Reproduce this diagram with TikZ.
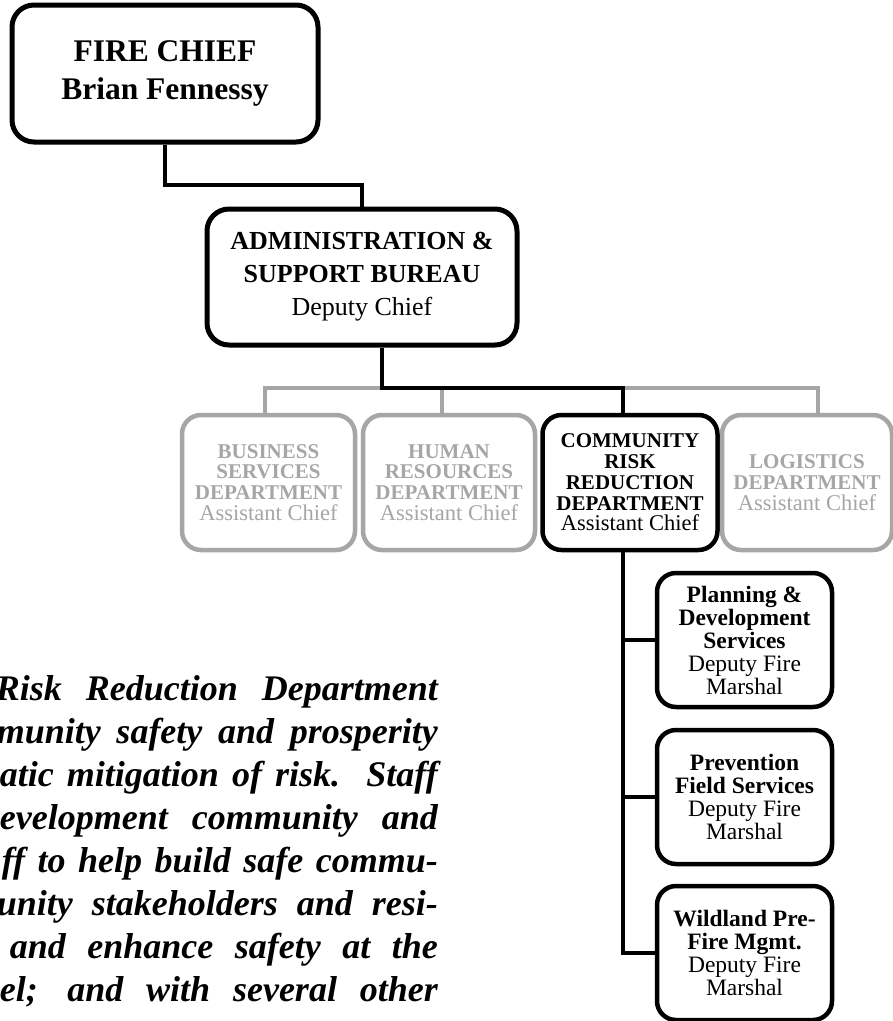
\documentclass[tikz,border=0pt]{standalone}
\usepackage{fontspec}
\setmainfont{Liberation Serif}
\definecolor{inactive}{HTML}{A6A6A6}

\tikzset{
  box/.style={draw=black, line width=4.5pt, rounded corners=19pt, align=center,
    inner sep=0pt, text=black, fill=white},
  chiefbox/.style={box, line width=5pt, rounded corners=22pt,
    minimum width=306pt, minimum height=137pt,
    font=\fontsize{31.5}{38}\selectfont\bfseries},
  bureaubox/.style={box, line width=5pt, rounded corners=22pt,
    minimum width=310pt, minimum height=136pt,
    font=\fontsize{26}{33}\selectfont},
  deptbox/.style={box, minimum height=135pt, font=\fontsize{21}{20.8}\selectfont},
  offbox/.style={deptbox, draw=inactive, text=inactive},
  unitbox/.style={box, minimum width=175pt, minimum height=134pt,
    font=\fontsize{23.5}{23}\selectfont},
  conn/.style={draw=black, line width=4pt},
  offconn/.style={draw=inactive, line width=4pt},
  para/.style={anchor=base east, inner sep=0pt,
    font=\fontsize{36}{43}\selectfont\bfseries\itshape}
}

\begin{document}
\begin{tikzpicture}[x=1pt, y=-1pt]
  \useasboundingbox (0,0) rectangle (893,1021);
  \fill[white] (0,0) rectangle (893,1021);
  \clip (0,0) rectangle (893,1021);

  % chief and bureau
  \node[chiefbox] (chief) at (165,73.5) {FIRE CHIEF\\Brian Fennessy};
  \node[bureaubox] (admin) at (362,277)
    {\textbf{ADMINISTRATION \&}\\\textbf{SUPPORT BUREAU}\\Deputy Chief};

  % departments
  \node[offbox, minimum width=173pt] (bsd) at (268.5,482.5)
    {\textbf{BUSINESS}\\\textbf{SERVICES}\\\textbf{DEPARTMENT}\\{\fontsize{22.5}{22}\selectfont Assistant Chief}};
  \node[offbox, minimum width=172pt] (hrd) at (449,482.5)
    {\textbf{HUMAN}\\\textbf{RESOURCES}\\\textbf{DEPARTMENT}\\{\fontsize{22.5}{22}\selectfont Assistant Chief}};
  \node[deptbox, minimum width=175pt] (crr) at (630,482.5)
    {\textbf{COMMUNITY}\\\textbf{RISK}\\\textbf{REDUCTION}\\\textbf{DEPARTMENT}\\{\fontsize{22.5}{22}\selectfont Assistant Chief}};
  \node[offbox, minimum width=170pt] (logd) at (807,482.5)
    {\textbf{LOGISTICS}\\\textbf{DEPARTMENT}\\{\fontsize{22.5}{22}\selectfont Assistant Chief}};

  % units under community risk reduction
  \node[unitbox] (plan) at (744.5,640)
    {\textbf{Planning \&}\\\textbf{Development}\\\textbf{Services}\\Deputy Fire\\Marshal};
  \node[unitbox] (prev) at (744.5,797)
    {\textbf{Prevention}\\\textbf{Field Services}\\Deputy Fire\\Marshal};
  \node[unitbox] (wild) at (744.5,953)
    {\textbf{Wildland Pre-}\\\textbf{Fire Mgmt.}\\Deputy Fire\\Marshal};

  % junctions on the department bus
  \coordinate (jA) at (382,388);
  \coordinate (jC) at ([xshift=-7pt]crr.north |- jA);
  \coordinate (cd) at ([xshift=-7pt]crr.south);

  % connectors
  \draw[conn] (chief.south) -- ++(0,40) -| (admin.north);
  \draw[offconn] ([xshift=-3.5pt]bsd.north) |- (jA);
  \draw[offconn] ([xshift=-7pt]hrd.north) |- (jA);
  \draw[offconn] (jC) -| ([xshift=11pt]logd.north);
  \draw[conn] (admin.south -| jA) -- (jA) -- (jC) -- ([xshift=-7pt]crr.north);
  \draw[conn] (cd) |- (wild.west);
  \draw[conn] (plan.west) -- (plan.west -| cd);
  \draw[conn] (prev.west) -- (prev.west -| cd);

  % description text
  \node[para] (t1) at (438,700) {\makebox[442pt][s]{Risk Reduction Department}};
  \node[para] (t2) at (438,743) {\makebox[441pt][s]{munity safety and prosperity}};
  \node[para] (t3) at (438,786) {\makebox[438pt][s]{atic mitigation of risk.\ \ Staff}};
  \node[para] (t4) at (438,829) {\makebox[438pt][s]{evelopment community and}};
  \node[para] (t5) at (438,872) {\makebox[436pt][s]{ff to help build safe commu-}};
  \node[para] (t6) at (438,915) {\makebox[441pt][s]{unity stakeholders and resi-}};
  \node[para] (t7) at (438,958) {\makebox[428pt][s]{and enhance safety at the}};
  \node[para] (t8) at (438,1001) {\makebox[438pt][s]{el; and with several other}};
\end{tikzpicture}
\end{document}
